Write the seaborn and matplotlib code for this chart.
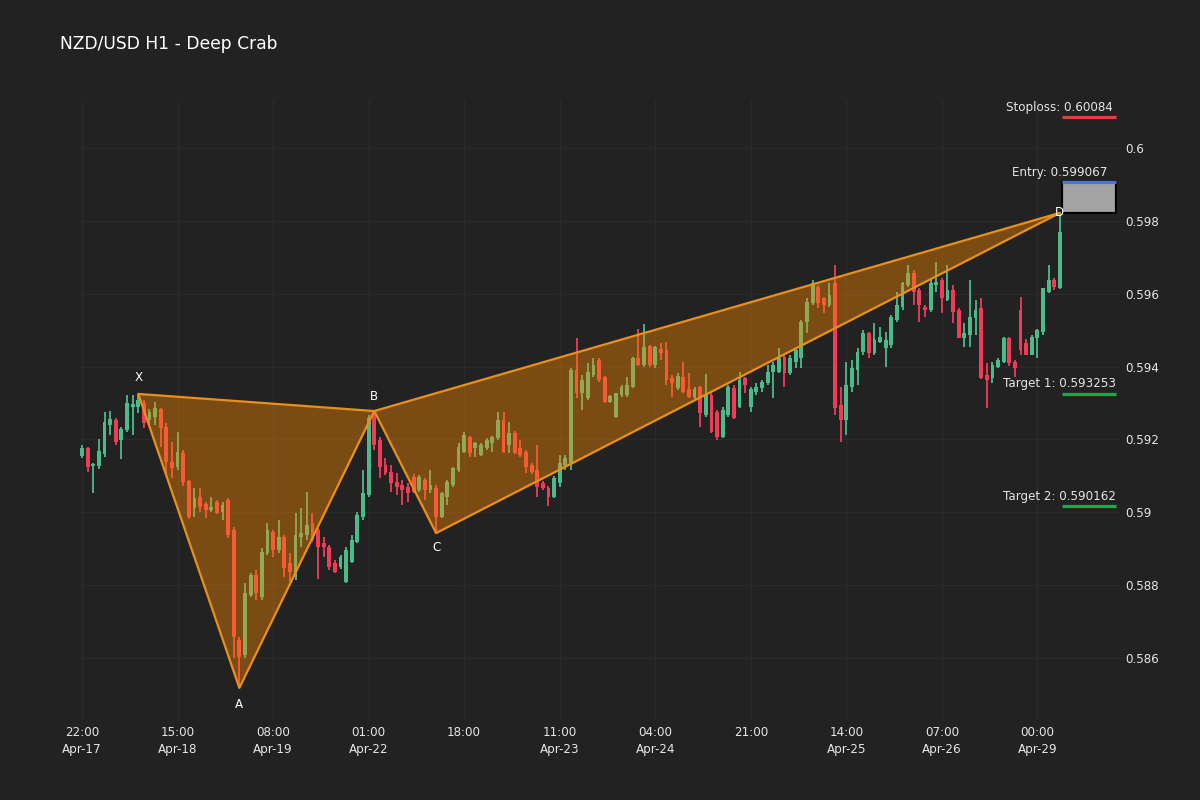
import numpy as np
import pandas as pd
import matplotlib
matplotlib.use("Agg")
import matplotlib.pyplot as plt
from matplotlib.patches import Polygon, Rectangle
import seaborn as sns

# ---------------- data ----------------
opens = [
    0.59155, 0.59176, 0.59126, 0.59127, 0.59160, 0.59240, 0.59253, 0.59198, 0.59226, 0.59289,
    0.59289, 0.59300, 0.59253, 0.59262, 0.59284, 0.59234, 0.59138, 0.59124, 0.59163, 0.59086,
    0.59012, 0.59042, 0.59023, 0.59006, 0.59028, 0.59001, 0.59034, 0.58951, 0.58650, 0.58608,
    0.58773, 0.58828, 0.58767, 0.58888, 0.58946, 0.58896, 0.58932, 0.58861, 0.58822, 0.58932,
    0.58938, 0.58971, 0.58951, 0.58916, 0.58905, 0.58861, 0.58850, 0.58809, 0.58864, 0.58918,
    0.58987, 0.59047, 0.59273, 0.59198, 0.59130, 0.59111, 0.59083, 0.59075, 0.59069, 0.59097,
    0.59061, 0.59089, 0.59061, 0.59067, 0.58987, 0.59042, 0.59075, 0.59116, 0.59166, 0.59207,
    0.59176, 0.59157, 0.59176, 0.59190, 0.59204, 0.59253, 0.59185, 0.59218, 0.59177, 0.59166,
    0.59130, 0.59116, 0.59080, 0.59067, 0.59042, 0.59080, 0.59130, 0.59135, 0.59391, 0.59327,
    0.59314, 0.59377, 0.59418, 0.59371, 0.59303, 0.59262, 0.59322, 0.59322, 0.59344, 0.59424,
    0.59404, 0.59456, 0.59404, 0.59448, 0.59445, 0.59369, 0.59341, 0.59371, 0.59338, 0.59316,
    0.59344, 0.59267, 0.59322, 0.59275, 0.59207, 0.59267, 0.59341, 0.59289, 0.59369, 0.59289,
    0.59330, 0.59341, 0.59355, 0.59385, 0.59385, 0.59426, 0.59382, 0.59413, 0.59424, 0.59522,
    0.59574, 0.59618, 0.59588, 0.59569, 0.59629, 0.59295, 0.59253, 0.59344, 0.59391, 0.59440,
    0.59492, 0.59437, 0.59467, 0.59451, 0.59459, 0.59528, 0.59563, 0.59624, 0.59657, 0.59610,
    0.59563, 0.59555, 0.59624, 0.59637, 0.59583, 0.59610, 0.59555, 0.59478, 0.59487, 0.59533,
    0.59561, 0.59377, 0.59369, 0.59399, 0.59412, 0.59478, 0.59413, 0.59555, 0.59465, 0.59432,
    0.59478, 0.59495, 0.59605, 0.59637, 0.59616,
]
highs = [
    0.59185, 0.59180, 0.59135, 0.59201, 0.59275, 0.59278, 0.59260, 0.59234, 0.59322, 0.59322,
    0.59325, 0.59308, 0.59283, 0.59303, 0.59286, 0.59245, 0.59193, 0.59220, 0.59171, 0.59090,
    0.59067, 0.59067, 0.59028, 0.59042, 0.59034, 0.59028, 0.59040, 0.58960, 0.58658, 0.58806,
    0.58834, 0.58842, 0.58902, 0.58971, 0.58951, 0.58979, 0.58938, 0.58888, 0.58998, 0.59012,
    0.59056, 0.58998, 0.58957, 0.58932, 0.58910, 0.58869, 0.58883, 0.58905, 0.58938, 0.59001,
    0.59116, 0.59267, 0.59278, 0.59207, 0.59149, 0.59130, 0.59108, 0.59089, 0.59080, 0.59105,
    0.59102, 0.59094, 0.59116, 0.59075, 0.59056, 0.59089, 0.59124, 0.59190, 0.59220, 0.59210,
    0.59193, 0.59190, 0.59204, 0.59210, 0.59275, 0.59275, 0.59248, 0.59223, 0.59198, 0.59171,
    0.59135, 0.59185, 0.59086, 0.59072, 0.59100, 0.59157, 0.59157, 0.59396, 0.59478, 0.59377,
    0.59410, 0.59424, 0.59424, 0.59374, 0.59322, 0.59327, 0.59349, 0.59371, 0.59426, 0.59503,
    0.59517, 0.59459, 0.59456, 0.59465, 0.59467, 0.59377, 0.59382, 0.59413, 0.59382, 0.59344,
    0.59347, 0.59380, 0.59327, 0.59281, 0.59289, 0.59349, 0.59349, 0.59385, 0.59371, 0.59344,
    0.59355, 0.59363, 0.59404, 0.59413, 0.59451, 0.59432, 0.59432, 0.59451, 0.59528, 0.59588,
    0.59638, 0.59624, 0.59591, 0.59629, 0.59679, 0.59344, 0.59412, 0.59418, 0.59451, 0.59500,
    0.59495, 0.59520, 0.59509, 0.59495, 0.59542, 0.59605, 0.59632, 0.59679, 0.59665, 0.59616,
    0.59569, 0.59638, 0.59687, 0.59643, 0.59679, 0.59624, 0.59561, 0.59520, 0.59638, 0.59583,
    0.59588, 0.59410, 0.59413, 0.59424, 0.59481, 0.59481, 0.59418, 0.59591, 0.59476, 0.59487,
    0.59503, 0.59616, 0.59679, 0.59643, 0.59822,
]
lows = [
    0.59150, 0.59111, 0.59053, 0.59119, 0.59152, 0.59212, 0.59185, 0.59146, 0.59220, 0.59212,
    0.59273, 0.59232, 0.59240, 0.59240, 0.59179, 0.59102, 0.59094, 0.59116, 0.59072, 0.58982,
    0.58987, 0.59001, 0.58984, 0.59001, 0.58995, 0.58979, 0.58930, 0.58600, 0.58518, 0.58600,
    0.58768, 0.58759, 0.58759, 0.58883, 0.58877, 0.58888, 0.58822, 0.58809, 0.58814, 0.58905,
    0.58924, 0.58918, 0.58817, 0.58877, 0.58842, 0.58833, 0.58845, 0.58806, 0.58861, 0.58916,
    0.58979, 0.59042, 0.59171, 0.59094, 0.59102, 0.59056, 0.59047, 0.59020, 0.59028, 0.59053,
    0.59056, 0.59034, 0.59053, 0.58943, 0.58984, 0.59020, 0.59069, 0.59111, 0.59163, 0.59152,
    0.59152, 0.59155, 0.59171, 0.59166, 0.59198, 0.59163, 0.59163, 0.59160, 0.59152, 0.59108,
    0.59105, 0.59042, 0.59061, 0.59017, 0.59040, 0.59069, 0.59116, 0.59116, 0.59314, 0.59281,
    0.59308, 0.59371, 0.59358, 0.59300, 0.59300, 0.59259, 0.59316, 0.59316, 0.59341, 0.59402,
    0.59399, 0.59399, 0.59396, 0.59418, 0.59349, 0.59316, 0.59336, 0.59327, 0.59314, 0.59311,
    0.59234, 0.59262, 0.59218, 0.59198, 0.59204, 0.59262, 0.59256, 0.59286, 0.59327, 0.59275,
    0.59322, 0.59330, 0.59349, 0.59314, 0.59382, 0.59344, 0.59377, 0.59396, 0.59396, 0.59492,
    0.59569, 0.59561, 0.59547, 0.59563, 0.59267, 0.59193, 0.59212, 0.59330, 0.59349, 0.59432,
    0.59424, 0.59432, 0.59465, 0.59399, 0.59451, 0.59522, 0.59555, 0.59618, 0.59569, 0.59522,
    0.59536, 0.59550, 0.59605, 0.59547, 0.59580, 0.59520, 0.59478, 0.59454, 0.59454, 0.59487,
    0.59366, 0.59286, 0.59355, 0.59396, 0.59410, 0.59402, 0.59371, 0.59432, 0.59432, 0.59432,
    0.59424, 0.59487, 0.59602, 0.59610, 0.59613,
]
closes = [
    0.59176, 0.59124, 0.59133, 0.59168, 0.59248, 0.59256, 0.59193, 0.59229, 0.59300, 0.59297,
    0.59308, 0.59245, 0.59275, 0.59286, 0.59231, 0.59138, 0.59122, 0.59166, 0.59083, 0.58987,
    0.59039, 0.59015, 0.59006, 0.59015, 0.58998, 0.59020, 0.58938, 0.58658, 0.58603, 0.58778,
    0.58828, 0.58778, 0.58891, 0.58951, 0.58896, 0.58932, 0.58847, 0.58836, 0.58938, 0.58943,
    0.58965, 0.58924, 0.58905, 0.58905, 0.58850, 0.58836, 0.58877, 0.58896, 0.58924, 0.58993,
    0.59053, 0.59259, 0.59185, 0.59124, 0.59108, 0.59080, 0.59069, 0.59061, 0.59053, 0.59056,
    0.59097, 0.59061, 0.59075, 0.58987, 0.59053, 0.59083, 0.59122, 0.59179, 0.59212, 0.59163,
    0.59190, 0.59185, 0.59198, 0.59207, 0.59253, 0.59166, 0.59218, 0.59163, 0.59157, 0.59124,
    0.59111, 0.59069, 0.59067, 0.59042, 0.59094, 0.59135, 0.59149, 0.59391, 0.59327, 0.59363,
    0.59385, 0.59404, 0.59363, 0.59303, 0.59319, 0.59327, 0.59344, 0.59349, 0.59424, 0.59404,
    0.59454, 0.59404, 0.59454, 0.59437, 0.59363, 0.59355, 0.59374, 0.59330, 0.59316, 0.59338,
    0.59273, 0.59322, 0.59220, 0.59207, 0.59281, 0.59344, 0.59259, 0.59363, 0.59350, 0.59338,
    0.59344, 0.59358, 0.59385, 0.59404, 0.59424, 0.59382, 0.59424, 0.59445, 0.59522, 0.59577,
    0.59629, 0.59574, 0.59569, 0.59596, 0.59286, 0.59253, 0.59349, 0.59396, 0.59440, 0.59492,
    0.59437, 0.59473, 0.59481, 0.59473, 0.59536, 0.59569, 0.59629, 0.59657, 0.59605, 0.59569,
    0.59555, 0.59629, 0.59632, 0.59588, 0.59610, 0.59550, 0.59478, 0.59492, 0.59536, 0.59555,
    0.59369, 0.59363, 0.59404, 0.59418, 0.59478, 0.59410, 0.59396, 0.59445, 0.59432, 0.59481,
    0.59500, 0.59616, 0.59637, 0.59618, 0.59769,
]

tick_positions = [0, 17, 34, 51, 68, 85, 102, 119, 136, 153, 170]
tick_labels = ["22:00\nApr-17", "15:00\nApr-18", "08:00\nApr-19", "01:00\nApr-22", "18:00",
               "11:00\nApr-23", "04:00\nApr-24", "21:00", "14:00\nApr-25", "07:00\nApr-26",
               "00:00\nApr-29"]

pattern_names = ["X", "A", "B", "C", "D"]
pattern_idx = [10, 28, 52, 63, 174]
pattern_price = [0.59325, 0.58518, 0.59278, 0.58943, 0.59822]

level_names = ["Stoploss", "Entry", "Target 1", "Target 2"]
level_values = [0.60084, 0.599067, 0.593253, 0.590162]
level_labels = ["0.60084", "0.599067", "0.593253", "0.590162"]

yticks = [0.586, 0.588, 0.590, 0.592, 0.594, 0.596, 0.598, 0.600]
ytick_labels = ["0.586", "0.588", "0.59", "0.592", "0.594", "0.596", "0.598", "0.6"]

df = pd.DataFrame({"open": opens, "high": highs, "low": lows, "close": closes})
df["idx"] = np.arange(len(df))
df["up"] = df["close"] >= df["open"]

# ---------------- style ----------------
BG = "#222222"
GRID = "#2a2a2a"
TXT = "#e6e6e6"
UP = "#4cbb8a"
DOWN = "#f23c57"

sns.set_theme(style="dark", rc={
    "figure.facecolor": BG, "axes.facecolor": BG, "axes.edgecolor": BG,
    "grid.color": GRID, "text.color": TXT, "xtick.color": TXT, "ytick.color": TXT,
})
plt.rcParams["font.family"] = ["DejaVu Sans"]

fig = plt.figure(figsize=(12, 8), dpi=100)
ax = fig.add_axes([80 / 1200, 80 / 800, 1040 / 1200, 620 / 800])
ax.set_facecolor(BG)

x0 = -0.36
x1 = 184.7
ax.set_xlim(x0, x1)
ax.set_ylim(0.584299, 0.601318)

ax.grid(True, color=GRID, linewidth=1, zorder=0)
ax.set_axisbelow(True)
for s in ax.spines.values():
    s.set_visible(False)

# candles
colors = np.where(df["up"], UP, DOWN)
ax.vlines(df["idx"], df["low"], df["high"], colors=colors, linewidth=1.3, zorder=2)
body_bottom = np.minimum(df["open"], df["close"])
body_h = np.maximum(np.abs(df["close"] - df["open"]), 0.000025)
ax.bar(df["idx"], body_h, bottom=body_bottom, width=0.68, color=colors, linewidth=0, zorder=3)

# pattern triangles
fill_c = (1.0, 0.55, 0.0, 0.4)
edge_c = "#e8901c"
tri1 = [(pattern_idx[i], pattern_price[i]) for i in (0, 1, 2)]
tri2 = [(pattern_idx[i], pattern_price[i]) for i in (2, 3, 4)]
for tri in (tri1, tri2):
    ax.add_patch(Polygon(tri, closed=True, facecolor=fill_c, edgecolor="none", zorder=4))
    ax.add_patch(Polygon(tri, closed=True, facecolor="none", edgecolor=edge_c, linewidth=1.6,
                         joinstyle="round", zorder=5))

offsets = {"X": (0, 7), "A": (0, -7), "B": (0, 6), "C": (0, -6), "D": (0, 0)}
vas = {"X": "bottom", "A": "top", "B": "bottom", "C": "top", "D": "center"}
for n, xi, p in zip(pattern_names, pattern_idx, pattern_price):
    ax.annotate(n, (xi, p), xytext=offsets[n], textcoords="offset points", ha="center",
                va=vas[n], fontsize=8.6, color="white", zorder=9)

# levels
lx0, lx1 = 174.3, 184.0
ax.add_patch(Rectangle((lx0, pattern_price[4]), lx1 - lx0, level_values[1] - pattern_price[4],
                       facecolor="#a3a3a3", edgecolor="black", linewidth=1.6, zorder=6))
level_colors = ["#e0403f", "#4a78d0", "#1fa84a", "#1fa84a"]
for name, v, lab, c in zip(level_names, level_values, level_labels, level_colors):
    ax.plot([lx0, lx1], [v, v], color=c, linewidth=2.3, solid_capstyle="butt", zorder=7)
    ax.annotate(f"{name}: {lab}", (pattern_idx[4], v), xytext=(0, 2.5),
                textcoords="offset points", ha="center", va="bottom",
                fontsize=8.6, color=TXT, zorder=9)

# axes ticks
ax.set_xticks(tick_positions)
ax.set_xticklabels(tick_labels, fontsize=8.6, color=TXT, linespacing=1.45)
ax.set_yticks(yticks)
ax.set_yticklabels(ytick_labels, fontsize=8.6, color=TXT)
ax.yaxis.tick_right()
ax.tick_params(axis="both", length=0)
ax.tick_params(axis="x", pad=4)
ax.tick_params(axis="y", pad=4)

fig.text(60 / 1200, 1 - 44 / 800, "NZD/USD H1 - Deep Crab", fontsize=12.3, color="white",
         ha="left", va="center")

fig.savefig("out.png", dpi=100, facecolor=BG)
